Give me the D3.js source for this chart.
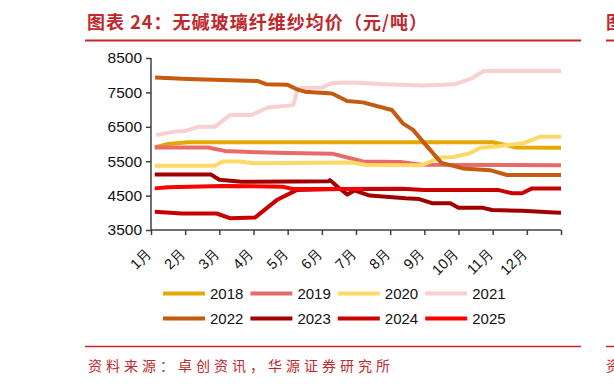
<!DOCTYPE html>
<html>
<head>
<meta charset="utf-8">
<script src="https://cdn.jsdelivr.net/npm/d3@7"></script>
<style>
  body { margin: 0; background: #fff; }
  svg { display: block; }
</style>
</head>
<body>
<script>
// month index (0 = start of 1月) and price
const years = ["2018", "2019", "2020", "2021", "2022", "2023", "2024", "2025"];
const colors = ["#E5A800", "#E86A6A", "#FFD966", "#F9CFD0", "#C55A11", "#A00000", "#C80000", "#FF0000"];
const monthLabels = ["1月", "2月", "3月", "4月", "5月", "6月", "7月", "8月", "9月", "10月", "11月", "12月"];
const yTicks = [3500, 4500, 5500, 6500, 7500, 8500];

const s2018 = [[0.11, 5900], [0.5, 6000], [1.1, 6050], [10.0, 6050], [10.7, 5900], [12.0, 5890]];
const s2019 = [[0.11, 5900], [1.67, 5900], [2.16, 5800], [3.1, 5760], [4.0, 5740], [5.3, 5720],
  [6.2, 5490], [7.3, 5480], [7.9, 5400], [12.0, 5380]];
const s2020 = [[0.11, 5370], [1.87, 5370], [2.1, 5490], [2.6, 5490], [2.99, 5440], [5.9, 5460],
  [6.3, 5390], [7.9, 5380], [8.5, 5610], [8.85, 5620], [9.34, 5730], [9.63, 5890], [10.1, 5930],
  [10.89, 6020], [11.38, 6210], [12.0, 6210]];
const s2021 = [[0.15, 6260], [0.7, 6360], [1.0, 6380], [1.38, 6500], [1.87, 6500], [2.31, 6840],
  [2.93, 6840], [3.42, 7060], [4.16, 7130], [4.3, 7620], [5.0, 7640], [5.3, 7770], [5.88, 7790],
  [6.85, 7740], [7.93, 7700], [8.9, 7740], [9.39, 7910], [9.74, 8120], [12.0, 8120]];
const s2022 = [[0.12, 7930], [1.08, 7890], [3.13, 7830], [3.37, 7740], [4.0, 7720], [4.27, 7590],
  [4.5, 7520], [5.3, 7470], [5.74, 7250], [6.2, 7210], [7.05, 6990], [7.37, 6600], [7.67, 6410],
  [7.96, 6070], [8.17, 5830], [8.5, 5450], [9.13, 5290], [9.92, 5240], [10.42, 5100], [12.0, 5100]];
const s2023 = [[0.11, 5110], [1.76, 5110], [2.0, 4960], [2.64, 4900], [5.2, 4920], [5.24, 4950],
  [5.5, 4720], [5.75, 4530], [5.95, 4650], [6.4, 4500], [7.45, 4420], [7.85, 4400], [8.22, 4280],
  [8.76, 4280], [9.0, 4150], [9.69, 4150], [9.98, 4080], [10.86, 4060], [11.8, 4010], [12.0, 4000]];
const s2024 = [[0.11, 4030], [0.9, 3980], [1.92, 3980], [2.33, 3840], [3.04, 3860], [3.68, 4370],
  [4.26, 4660], [5.53, 4690], [7.35, 4700], [8.0, 4660], [10.18, 4660], [10.57, 4570], [10.86, 4570],
  [11.15, 4710], [12.0, 4710]];
const s2025 = [[0.11, 4710], [0.5, 4740], [2.1, 4780], [3.85, 4760], [4.15, 4690], [6.2, 4690]];
const series = [s2018, s2019, s2020, s2021, s2022, s2023, s2024, s2025];

const width = 614, height = 384;
const svg = d3.select("body").append("svg").attr("width", width).attr("height", height);
const red = "#C0282D";

// header
svg.append("text")
  .attr("x", 87).attr("y", 29)
  .attr("textLength", 340).attr("lengthAdjust", "spacing")
  .style("font-family", "'Noto Sans CJK SC'").style("font-weight", "bold")
  .style("font-size", "18px").style("fill", red)
  .text("图表 24：无碱玻璃纤维纱均价（元/吨）");
svg.append("line").attr("x1", 85).attr("x2", 581).attr("y1", 40.5).attr("y2", 40.5)
  .style("stroke", red).style("stroke-width", 2);
// next column, only its left edge shows
svg.append("line").attr("x1", 606).attr("x2", 614).attr("y1", 40.5).attr("y2", 40.5)
  .style("stroke", red).style("stroke-width", 2);
svg.append("text").attr("x", 606).attr("y", 29)
  .style("font-family", "'Noto Sans CJK SC'").style("font-weight", "bold")
  .style("font-size", "18px").style("fill", red).text("图");

// footer
svg.append("line").attr("x1", 85).attr("x2", 581).attr("y1", 346.5).attr("y2", 346.5)
  .style("stroke", red).style("stroke-width", 1.5);
svg.append("line").attr("x1", 606).attr("x2", 614).attr("y1", 346.5).attr("y2", 346.5)
  .style("stroke", red).style("stroke-width", 1.5);
svg.append("text")
  .attr("x", 88).attr("y", 371)
  .attr("textLength", 302).attr("lengthAdjust", "spacing")
  .style("font-family", "'Noto Sans CJK SC'")
  .style("font-size", "14px").style("fill", red)
  .text("资料来源：卓创资讯，华源证券研究所");
svg.append("text").attr("x", 606).attr("y", 371)
  .style("font-family", "'Noto Sans CJK SC'")
  .style("font-size", "14px").style("fill", red).text("资");

// scales
const x = d3.scaleLinear().domain([0, 12]).range([151, 561]);
const y = d3.scaleLinear().domain([3500, 8500]).range([230, 58]);

const axisColor = "#404040";
const yAxis = svg.append("g")
  .attr("transform", "translate(151,0)")
  .call(d3.axisLeft(y).tickValues(yTicks).tickSize(5).tickPadding(4).tickFormat(d3.format("d")));
yAxis.select(".domain").attr("d", "M0," + y(8500) + "V" + y(3500));

const xAxis = svg.append("g")
  .attr("transform", "translate(0,230)")
  .call(d3.axisBottom(x).tickValues(d3.range(13)).tickSize(5)
    .tickFormat(i => i < 12 ? monthLabels[i] : ""));
xAxis.select(".domain").attr("d", "M" + x(0) + ",0H" + x(12));
xAxis.selectAll(".tick text")
  .attr("text-anchor", "end")
  .attr("dy", null)
  .attr("transform", "translate(1,24) rotate(-45)")
  .attr("y", 0).attr("x", 0);

[yAxis, xAxis].forEach(a => {
  a.selectAll(".domain, .tick line").style("stroke", axisColor).style("stroke-width", 1.5);
  a.selectAll(".tick text").style("fill", "#111").style("font-family", "'Liberation Sans', Arial");
});
yAxis.selectAll(".tick text").style("font-size", "15.5px");
xAxis.selectAll(".tick text").style("font-size", "14.5px");

// lines
const line = d3.line().x(d => x(d[0])).y(d => y(d[1]));
svg.append("g").selectAll("path")
  .data(series)
  .join("path")
  .attr("d", line)
  .style("fill", "none")
  .style("stroke", (d, i) => colors[i])
  .style("stroke-width", 4)
  .style("stroke-linejoin", "round")
  .style("stroke-linecap", "butt");

// legend
const legend = svg.append("g").selectAll("g")
  .data(years)
  .join("g")
  .attr("transform", (d, i) => "translate(" + (163 + (i % 4) * 87.4) + "," + (293.5 + Math.floor(i / 4) * 25) + ")");
legend.append("line")
  .attr("x1", 0).attr("x2", 42)
  .style("stroke", (d, i) => colors[i]).style("stroke-width", 4);
legend.append("text")
  .attr("x", 47).attr("dy", "0.36em")
  .style("font-family", "'Liberation Sans', Arial").style("font-size", "15px").style("fill", "#111")
  .text(d => d);
</script>
</body>
</html>
